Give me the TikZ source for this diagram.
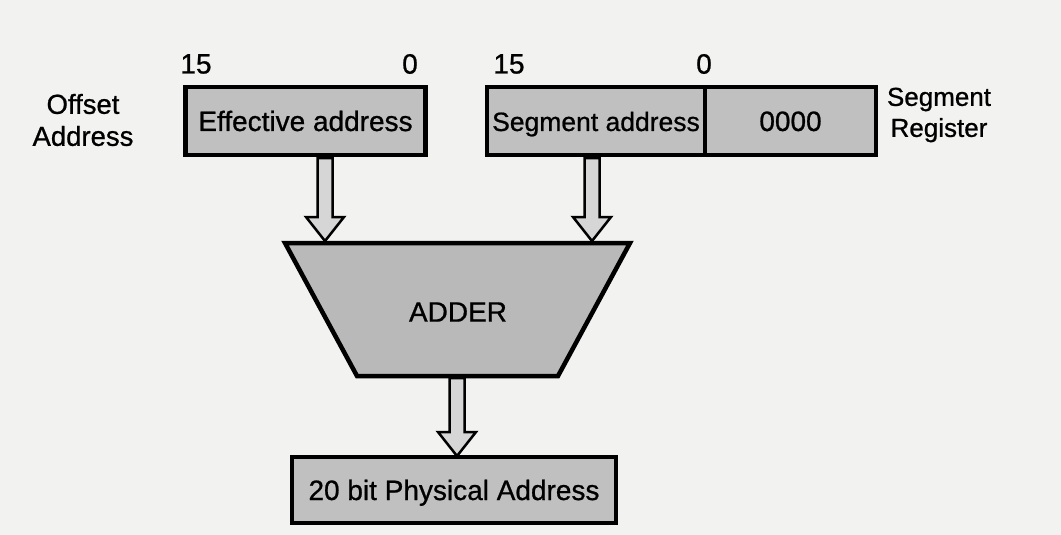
\documentclass[tikz,border=0pt]{standalone}
\usepackage{fontspec}
\setmainfont{Liberation Sans}[BoldFont={Liberation Sans},BoldFeatures={FakeBold=0.8}]
\usetikzlibrary{calc}
\definecolor{paper}{HTML}{F2F2F0}
\definecolor{boxgray}{HTML}{C0C0C0}
\definecolor{addgray}{HTML}{B9B9B9}
\definecolor{arrgray}{HTML}{D6D6D6}
\tikzset{
  regbox/.style={draw=black, line width=4.5pt, fill=boxgray, minimum height=68pt, inner sep=0pt, text height=21pt, text depth=1pt, font=\fontsize{28}{30}\selectfont\bfseries},
  lbl/.style={inner sep=0pt, font=\fontsize{28}{30}\selectfont\bfseries},
  sidelbl/.style={inner sep=0pt, align=center, font=\fontsize{26}{31}\selectfont\bfseries},
  blockarr/.style={draw=black, line width=2.5pt, fill=arrgray, line join=miter},
}
\newcommand{\hollowarrow}[2]{%
  \draw[blockarr] let \p1=(#1), \p2=(#2) in
    (\x1-7.5pt,\y1) -- (\x1-7.5pt,\y2+24pt) -- (\x1-19pt,\y2+24pt) -- (\x1,\y2)
    -- (\x1+19pt,\y2+24pt) -- (\x1+7.5pt,\y2+24pt) -- (\x1+7.5pt,\y1) -- cycle;}
\begin{document}
\begin{tikzpicture}[x=1pt,y=-1pt]
\fill[paper] (0,0) rectangle (1061,535);
\useasboundingbox (0,0) rectangle (1061,535);

% registers
\node[regbox, minimum width=240pt] (eff) at (305.5,121) {Effective address};
\node[regbox, minimum width=218pt, font=\fontsize{26.5}{30}\selectfont\bfseries] (seg) at (596,121) {Segment address};
\node[regbox, minimum width=171pt] (zero) at (790.5,121) {0000};

% bit labels
\node[lbl] (e15) at (196,64) {15};
\node[lbl] (e0) at (410,64) {0};
\node[lbl] (s15) at (509,64) {15};
\node[lbl] (s0) at (704,64) {0};

% side labels
\node[sidelbl, font=\fontsize{27.5}{32}\selectfont\bfseries] (offlbl) at (83,120) {Offset\\Address};
\node[sidelbl] (seglbl) at (939,115) {Segment\\Register};

% adder
\coordinate (atl) at (285,243);
\coordinate (atr) at (630,243);
\coordinate (abr) at (558,376);
\coordinate (abl) at (357,376);
\draw[line width=4.5pt, fill=addgray, line join=miter] (atl) -- (atr) -- (abr) -- (abl) -- cycle;
\node[lbl] (adder) at (458,312) {ADDER};
\coordinate (ain1) at (325,241);
\coordinate (ain2) at (592,241);
\coordinate (aout) at (457,378);

% physical address
\node[regbox, minimum width=324pt, minimum height=66pt] (phys) at (454,490) {20 bit Physical Address};

% arrows
\coordinate (eout) at (325,158);
\coordinate (sout) at (592,158);
\coordinate (pin) at (457,456);
\hollowarrow{eout}{ain1}
\hollowarrow{sout}{ain2}
\hollowarrow{aout}{pin}
\end{tikzpicture}
\end{document}
